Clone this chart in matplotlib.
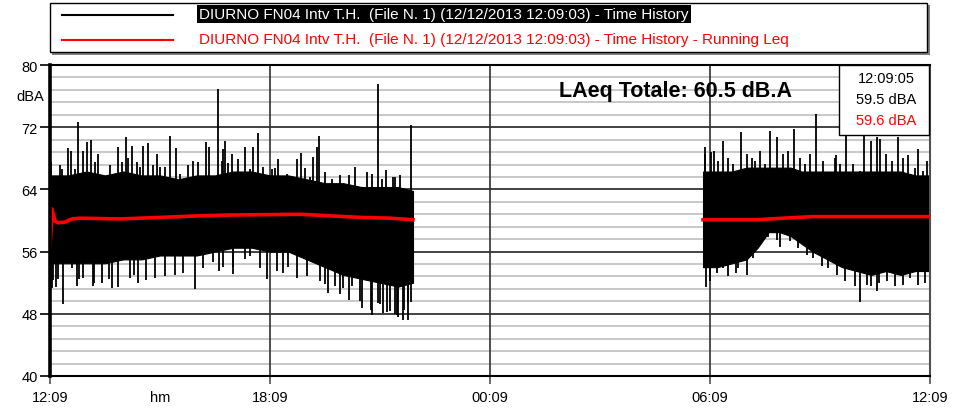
import numpy as np
import matplotlib.pyplot as plt
from matplotlib.patches import Rectangle
from matplotlib.lines import Line2D

plt.rcParams['font.family'] = ['Liberation Sans', 'DejaVu Sans']

# x axis = hours after 12:09 of 12/12/2013
tick_hours = [0, 6, 12, 18, 24]
tick_labels = ["12:09", "18:09", "00:09", "06:09", "12:09"]

# block 1 (12:09 -> ~22:03), dense core of the time history (dBA)
seg1_t = [0.0, 0.5, 1.0, 1.5, 2.0, 2.5, 3.0, 3.5, 4.0, 4.5, 5.0,
          5.5, 6.0, 6.5, 7.0, 7.5, 8.0, 8.5, 9.0, 9.5, 9.9]
seg1_low = [54.5, 54.5, 54.5, 54.5, 55.0, 55.0, 55.5, 55.5, 55.5, 56.0, 56.5,
            56.5, 56.0, 56.0, 55.0, 54.0, 53.0, 52.5, 52.0, 51.5, 52.0]
seg1_high = [65.8, 65.8, 66.3, 65.8, 66.3, 65.8, 65.8, 65.3, 65.8, 65.8, 66.3,
             66.3, 65.8, 65.8, 65.3, 64.8, 64.8, 64.3, 64.3, 64.3, 63.8]

# peaks above the core
seg1_up_t = [0.0, 0.04, 0.27, 0.34, 0.5, 0.57, 0.68, 0.77, 0.9, 1.0, 1.12,
             1.23, 1.3, 1.42, 1.64, 1.85, 1.96, 2.07, 2.13, 2.23, 2.37, 2.45,
             2.54, 2.67, 2.81, 2.91, 3.0, 3.14, 3.27, 3.44, 3.55, 3.76, 3.9,
             4.04, 4.25, 4.34, 4.45, 4.58, 4.69, 4.72, 4.77, 4.85, 4.96, 5.13,
             5.32, 5.45, 5.54, 5.67, 5.81, 6.05, 6.14, 6.22, 6.46, 6.74, 6.85,
             6.95, 7.09, 7.17, 7.28, 7.34, 7.5, 7.69, 7.9, 8.15, 8.32, 8.51,
             8.65, 8.78, 8.95, 9.05, 9.16, 9.35, 9.41, 9.55, 9.68, 9.85]
seg1_up_db = [67.6, 67.5, 67.2, 66.6, 69.3, 69.0, 66.6, 72.7, 68.9, 70.1, 70.3,
              67.5, 68.5, 65.6, 67.2, 69.5, 67.5, 70.7, 68.0, 69.6, 67.5, 66.9,
              69.6, 70.0, 67.2, 68.5, 66.9, 66.9, 70.9, 69.3, 66.0, 67.2, 67.6,
              67.5, 70.1, 69.4, 65.6, 76.9, 67.6, 69.2, 70.2, 67.4, 68.5, 67.9,
              69.4, 66.6, 69.5, 71.3, 66.9, 66.6, 66.7, 67.9, 66.0, 67.9, 68.7,
              66.8, 65.6, 68.2, 69.4, 70.9, 66.3, 65.3, 65.8, 65.9, 66.9, 64.3,
              66.2, 66.0, 77.6, 65.3, 66.5, 65.6, 65.6, 65.8, 63.9, 72.3]
# dips below the core
seg1_dn_t = [0.05, 0.08, 0.15, 0.22, 0.35, 0.6, 0.73, 0.8, 0.9, 1.18, 1.2,
             1.41, 1.6, 1.68, 1.86, 2.18, 2.3, 2.4, 2.63, 2.86, 3.14, 3.41,
             3.63, 3.95, 4.17, 4.45, 4.6, 4.72, 4.99, 5.0, 5.32, 5.45, 5.73,
             5.92, 6.19, 6.35, 6.5, 6.74, 7.0, 7.36, 7.5, 7.58, 7.77, 7.9,
             8.0, 8.15, 8.24, 8.45, 8.5, 8.75, 8.78, 8.95, 9.0, 9.08, 9.2,
             9.27, 9.4, 9.46, 9.5, 9.63, 9.65, 9.75, 9.76, 9.85]
seg1_dn_db = [51.3, 52.4, 51.5, 52.5, 49.2, 53.9, 51.6, 52.5, 52.6, 51.6, 52.0,
              51.9, 52.5, 51.3, 51.5, 52.6, 53.0, 51.9, 52.4, 52.6, 52.8, 53.0,
              53.2, 51.2, 53.9, 54.7, 53.5, 54.0, 53.1, 54.0, 55.0, 55.4, 53.9,
              52.5, 53.5, 53.3, 54.0, 52.6, 52.8, 52.2, 51.8, 50.7, 51.6, 50.5,
              51.3, 49.8, 51.6, 49.6, 48.8, 48.5, 47.9, 49.4, 49.3, 48.1, 48.2,
              48.3, 48.0, 47.9, 47.6, 47.2, 48.5, 47.2, 49.4, 49.5]

# block 2 (~05:59 -> 12:09)
seg2_t = [17.81, 18.2, 18.6, 19.0, 19.3, 19.6, 19.9, 20.2, 20.5, 20.8, 21.2,
          21.6, 22.0, 22.4, 22.8, 23.2, 23.6, 24.0]
seg2_low = [54.0, 54.0, 54.5, 55.0, 56.5, 58.5, 58.5, 58.0, 57.0, 56.0, 55.0,
            54.0, 53.5, 53.0, 53.5, 53.0, 53.5, 53.5]
seg2_high = [66.3, 66.3, 66.3, 66.8, 66.8, 66.8, 66.8, 66.8, 66.3, 66.3, 66.3,
             66.3, 66.3, 66.3, 66.3, 66.3, 65.8, 65.8]

seg2_up_t = [17.85, 17.86, 18.04, 18.1, 18.22, 18.36, 18.49, 18.63, 18.85,
             19.0, 19.15, 19.23, 19.36, 19.5, 19.64, 19.84, 20.0, 20.13, 20.3,
             20.45, 20.59, 20.73, 20.9, 21.08, 21.4, 21.45, 21.55, 21.7, 21.9,
             22.1, 22.2, 22.4, 22.55, 22.65, 22.8, 22.96, 23.13, 23.27, 23.4,
             23.59, 23.67, 23.8, 23.92]
seg2_up_db = [69.5, 68.6, 68.8, 69.0, 67.7, 70.2, 68.1, 67.3, 71.4,
              68.6, 68.1, 67.7, 69.0, 67.3, 71.5, 70.7, 68.6, 69.0, 71.8,
              68.1, 67.3, 68.6, 73.7, 67.7, 68.1, 68.4, 67.3, 70.9, 67.3,
              66.4, 70.9, 70.2, 70.7, 70.5, 68.6, 67.7, 70.8, 68.1, 68.4,
              66.8, 69.2, 66.4, 67.7]
seg2_dn_t = [17.9, 18.0, 18.2, 18.36, 18.5, 18.7, 18.77, 19.0, 19.18, 19.31,
             19.58, 19.82, 19.9, 20.18, 20.4, 20.64, 20.82, 21.05, 21.22,
             21.46, 21.68, 21.95, 22.1, 22.28, 22.4, 22.55, 22.6, 22.83, 23.05,
             23.27, 23.45, 23.67, 23.86]
seg2_dn_db = [51.4, 52.2, 53.2, 53.9, 52.9, 53.2, 53.9, 53.0, 55.2, 56.4,
              57.9, 57.5, 56.6, 57.3, 56.4, 55.6, 55.2, 54.1, 53.9,
              53.0, 52.2, 51.6, 49.5, 51.7, 51.6, 50.9, 52.0, 52.2, 51.6,
              51.7, 52.6, 51.7, 52.0]

# running Leq
leq1_t = [0.0, 0.03, 0.05, 0.14, 0.22, 0.41, 0.6, 0.82, 1.91, 3.0, 4.09,
          4.9, 6.82, 7.64, 8.45, 9.27, 9.9]
leq1_db = [56.7, 59.0, 61.5, 59.9, 59.7, 59.8, 60.2, 60.3, 60.2, 60.4, 60.6,
           60.7, 60.8, 60.6, 60.4, 60.3, 60.1]
leq2_t = [17.81, 19.3, 20.0, 20.8, 24.0]
leq2_db = [60.1, 60.1, 60.3, 60.5, 60.5]

fig = plt.figure(figsize=(9.56, 4.14), dpi=100)
ax = fig.add_axes([50 / 956, 1 - 377 / 414, 880 / 956, 311 / 414])

ax.set_xlim(0, 24)
ax.set_ylim(40, 80)

# grid
for y in np.arange(40, 80.01, 1.6):
    ax.axhline(y, color='#c8c8c8', lw=1.4, zorder=0)
for y in range(48, 80, 8):
    ax.axhline(y, color='#202020', lw=1.1, zorder=0.5)
for x in [6, 12, 18]:
    ax.axvline(x, color='#303030', lw=1.2, zorder=0.5)

# time history
for t, lo, hi, ut, ud, dt, dd in [
        (seg1_t, seg1_low, seg1_high, seg1_up_t, seg1_up_db, seg1_dn_t, seg1_dn_db),
        (seg2_t, seg2_low, seg2_high, seg2_up_t, seg2_up_db, seg2_dn_t, seg2_dn_db)]:
    ax.fill_between(t, lo, hi, color='black', lw=0.8, zorder=2)
    ax.vlines(ut, 60, ud, color='black', lw=1.3, zorder=2)
    ax.vlines(dt, dd, 60, color='black', lw=1.3, zorder=2)

ax.plot(leq1_t, leq1_db, color='red', lw=2.6, zorder=3)
ax.plot(leq2_t, leq2_db, color='red', lw=2.6, zorder=3)

ax.set_xticks(tick_hours)
ax.set_xticklabels(tick_labels)
ax.set_yticks(range(40, 81, 8))
ax.tick_params(axis='x', length=6, width=1.2, color='#505050', pad=4, labelsize=10.5)
ax.tick_params(axis='y', length=7.5, width=1.2, color='black', pad=1.5, labelsize=10.5)

for s in ['top', 'bottom']:
    ax.spines[s].set_linewidth(1.5)
    ax.spines[s].set_color('black')
ax.spines['right'].set_color('#505050')
ax.spines['right'].set_linewidth(1.5)
ax.spines['left'].set_linewidth(2.6)
ax.spines['left'].set_linestyle((0, (4, 1)))
ax.spines['left'].set_zorder(4)

# overlay in pixel units for the annotations
lay = fig.add_axes([0, 0, 1, 1], zorder=5)
lay.set_xlim(0, 956)
lay.set_ylim(414, 0)
lay.axis('off')

lay.text(30, 97, "dBA", ha='center', va='center', fontsize=10.5)
lay.text(160, 398, "hm", ha='center', va='center', fontsize=10.5)
lay.text(676, 92, "LAeq Totale: 60.5 dB.A", ha='center', va='center',
         fontsize=15.5, fontweight='bold')

# cursor readout
lay.add_patch(Rectangle((839, 66), 90, 70, facecolor='white', edgecolor='black', lw=1))
lay.text(886, 79, "12:09:05", ha='center', va='center', fontsize=10.5)
lay.text(886, 100, "59.5 dBA", ha='center', va='center', fontsize=10.5)
lay.text(886, 121, "59.6 dBA", ha='center', va='center', fontsize=10.5, color='red')

# legend box
lay.add_patch(Rectangle((52, 6), 878, 50, facecolor='#808080', edgecolor='none'))
lay.add_patch(Rectangle((50, 4), 877, 49, facecolor='white', edgecolor='black', lw=1))
lay.add_line(Line2D([62, 173], [16, 16], color='black', lw=1.5))
lay.add_line(Line2D([62, 173], [41, 41], color='red', lw=1.5))
legend_name = "DIURNO FN04 Intv T.H.  (File N. 1) (12/12/2013 12:09:03) - Time History"
lay.text(199, 15, legend_name, color='white', va='center', fontsize=11,
         bbox=dict(facecolor='black', edgecolor='none', pad=1.5))
lay.text(199, 40, legend_name + " - Running Leq", color='red', va='center', fontsize=11)

fig.savefig("out.png", dpi=100)
